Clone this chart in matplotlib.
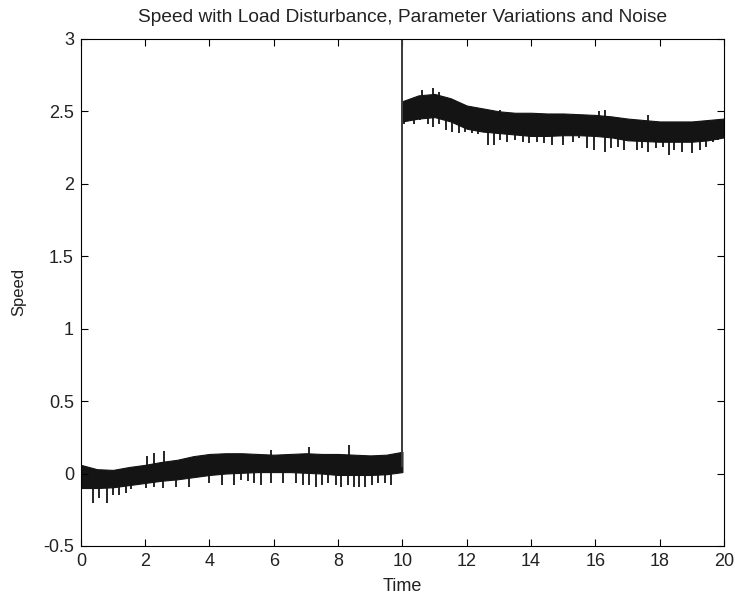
import numpy as np
import matplotlib
matplotlib.use("Agg")
import matplotlib.pyplot as plt
from matplotlib import font_manager

# --- dados ---
# faixa densa do sinal (envelope superior/inferior) antes do degrau
t_low = [0, 0.5, 1, 1.5, 2, 2.5, 3, 3.5, 4, 4.5, 5, 5.5, 6, 6.5, 7, 7.5, 8, 8.5, 9, 9.5, 10]
low_upper = [0.06, 0.03, 0.025, 0.045, 0.06, 0.08, 0.095, 0.12, 0.135, 0.14, 0.14,
             0.135, 0.13, 0.135, 0.14, 0.135, 0.135, 0.13, 0.125, 0.13, 0.15]
low_lower = [-0.10, -0.10, -0.095, -0.08, -0.065, -0.05, -0.04, -0.025, -0.01, 0.0, 0.005,
             0.01, 0.01, 0.01, 0.005, 0.0, -0.01, -0.01, -0.01, -0.005, 0.01]

# faixa densa depois do degrau
t_high = [10, 10.5, 11, 11.5, 12, 12.5, 13, 13.5, 14, 14.5, 15, 15.5, 16, 16.5, 17,
          17.5, 18, 18.5, 19, 19.5, 20]
high_upper = [2.57, 2.61, 2.62, 2.59, 2.54, 2.52, 2.50, 2.49, 2.49, 2.485, 2.485,
              2.48, 2.475, 2.465, 2.45, 2.44, 2.43, 2.43, 2.43, 2.44, 2.45]
high_lower = [2.43, 2.45, 2.46, 2.43, 2.38, 2.36, 2.35, 2.34, 2.33, 2.33, 2.335,
              2.335, 2.33, 2.32, 2.30, 2.295, 2.29, 2.29, 2.29, 2.30, 2.32]

# picos para baixo (tempo, valor mínimo)
spike_t = [0.0, 0.37, 0.56, 0.81, 1.0, 1.18, 1.4, 1.55, 2.02, 2.27, 2.55, 2.95, 3.35,
           3.97, 4.4, 4.75, 4.98, 5.2, 5.4, 5.6, 5.9, 6.3, 6.7, 6.9, 7.1, 7.3, 7.5,
           7.7, 7.95, 8.1, 8.3, 8.5, 8.65, 8.85, 9.05, 9.25, 9.45, 9.65,
           10.05, 10.35, 10.55, 10.8, 10.95, 11.15, 11.35, 11.55, 11.75, 11.95, 12.15,
           12.35, 12.65, 12.85, 13.05, 13.25, 13.5, 13.75, 13.95, 14.2, 14.4, 14.65,
           15.0, 15.3, 15.5, 15.75, 15.95, 16.3, 16.5, 16.7, 16.9, 17.3, 17.45, 17.65,
           17.9, 18.1, 18.3, 18.45, 18.7, 19.0, 19.25, 19.45, 19.65, 19.8]
spike_v = [-0.26, -0.20, -0.17, -0.20, -0.15, -0.15, -0.135, -0.11, -0.10, -0.09, -0.10,
           -0.09, -0.09, -0.066, -0.078, -0.078, -0.043, -0.055, -0.066, -0.078, -0.066,
           -0.066, -0.066, -0.078, -0.078, -0.09, -0.078, -0.066, -0.078, -0.09, -0.078,
           -0.09, -0.09, -0.095, -0.078, -0.066, -0.066, -0.078,
           2.41, 2.41, 2.44, 2.41, 2.395, 2.41, 2.37, 2.36, 2.35, 2.36, 2.35,
           2.34, 2.27, 2.27, 2.30, 2.29, 2.30, 2.29, 2.28, 2.29, 2.28, 2.27,
           2.27, 2.29, 2.315, 2.245, 2.234, 2.222, 2.245, 2.257, 2.234, 2.234, 2.245, 2.222,
           2.245, 2.257, 2.20, 2.234, 2.222, 2.21, 2.234, 2.257, 2.29, 2.30]

# picos para cima (tempo, valor máximo)
up_t = [2.05, 2.27, 2.6, 5.9, 7.1, 8.35, 10.6, 10.95, 11.15, 13.05, 16.1, 16.3, 17.65]
up_v = [0.12, 0.145, 0.155, 0.16, 0.185, 0.195, 2.65, 2.66, 2.63, 2.51, 2.50, 2.51, 2.475]

# degrau em t = 10 (o traço sai do topo do eixo)
jump_t = [10, 10]
jump_v = [0.05, 3.4]

title = "Speed with Load Disturbance, Parameter Variations and Noise"
x_ticks = [0, 2, 4, 6, 8, 10, 12, 14, 16, 18, 20]
y_ticks = [-0.5, 0, 0.5, 1, 1.5, 2, 2.5, 3]
y_tick_labels = ["-0.5", "0", "0.5", "1", "1.5", "2", "2.5", "3"]

# fonte parecida com a do MATLAB
names = {f.name for f in font_manager.fontManager.ttflist}
label_font = "Liberation Sans Narrow" if "Liberation Sans Narrow" in names else "Liberation Sans"
plt.rcParams["font.family"] = ["Liberation Sans", "DejaVu Sans"]

fig = plt.figure(figsize=(7.35, 5.98), dpi=100)
ax = fig.add_axes([0.110, 0.087, 0.875, 0.848])

line_color = "#141414"
text_color = "#222222"

ax.plot(jump_t, jump_v, color="#3a3a3a", linewidth=1.4)
ax.fill_between(t_low, low_lower, low_upper, color=line_color, linewidth=0.8, edgecolor=line_color)
ax.fill_between(t_high, high_lower, high_upper, color=line_color, linewidth=0.8, edgecolor=line_color)


def band_mid(times, t_env, upper, lower):
    mid = (np.array(upper) + np.array(lower)) / 2
    return np.interp(times, t_env, mid)


# base dos picos no meio da faixa
low_mask = np.array(spike_t) < 10
base = np.where(low_mask,
                band_mid(spike_t, t_low, low_upper, low_lower),
                band_mid(spike_t, t_high, high_upper, high_lower))
ax.vlines(spike_t, spike_v, base, color=line_color, linewidth=1.3)

up_mask = np.array(up_t) < 10
up_base = np.where(up_mask,
                   band_mid(up_t, t_low, low_upper, low_lower),
                   band_mid(up_t, t_high, high_upper, high_lower))
ax.vlines(up_t, up_base, up_v, color=line_color, linewidth=1.3)

ax.set_xlim(0, 20)
ax.set_ylim(-0.5, 3)
ax.set_xticks(x_ticks)
ax.set_xticklabels([str(v) for v in x_ticks], fontsize=13, family=label_font, color=text_color)
ax.set_yticks(y_ticks)
ax.set_yticklabels(y_tick_labels, fontsize=13, family=label_font, color=text_color)
ax.tick_params(direction="in", length=5, width=0.8, top=True, right=True, pad=5)

ax.set_xlabel("Time", fontsize=13, family=label_font, labelpad=6, color=text_color)
ax.set_ylabel("Speed", fontsize=12, labelpad=12, color=text_color)
ax.set_title(title, fontsize=13.8, pad=12, color=text_color)

for s in ax.spines.values():
    s.set_linewidth(0.8)

fig.savefig("out.png", dpi=100)
